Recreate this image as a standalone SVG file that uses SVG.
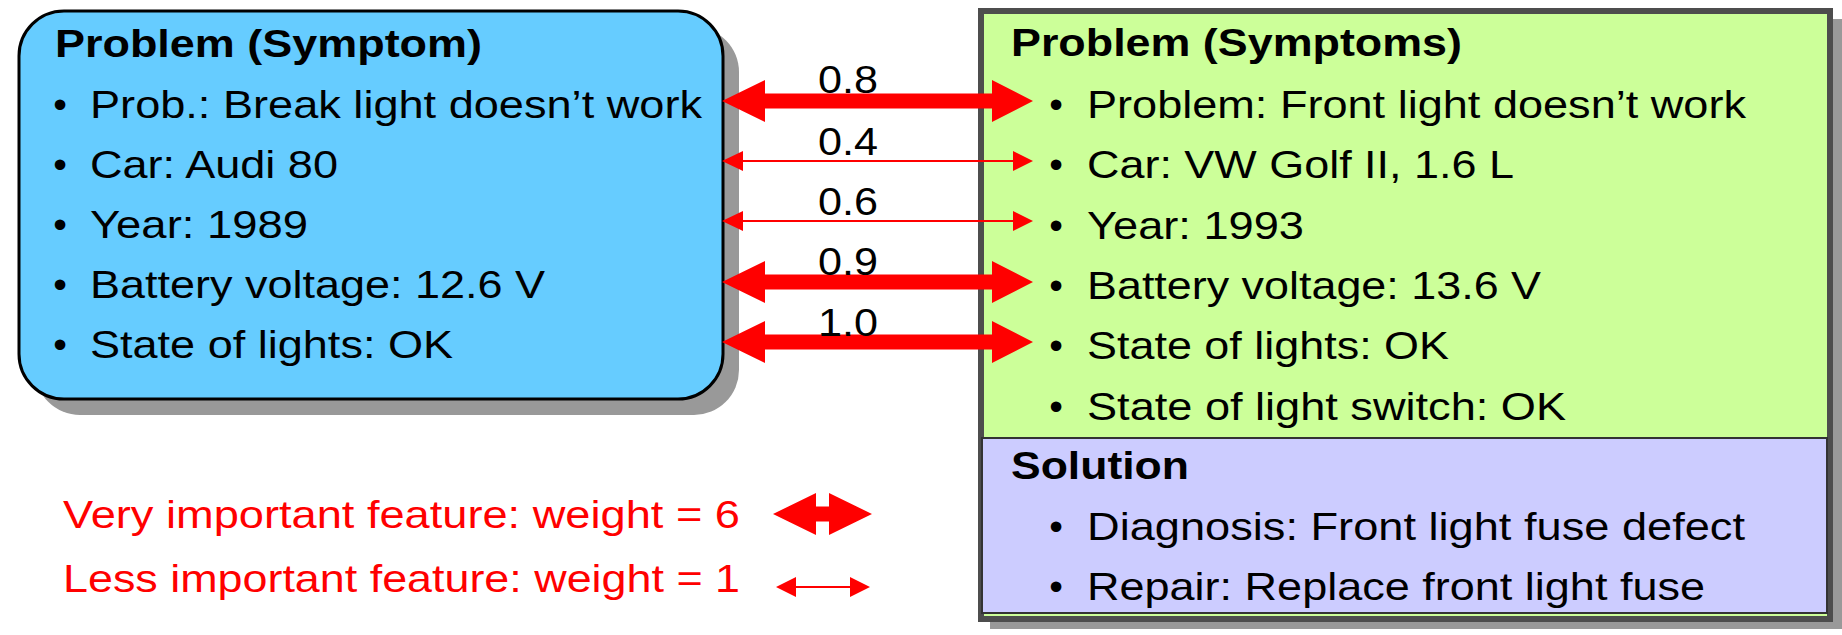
<svg xmlns="http://www.w3.org/2000/svg" xmlns:xlink="http://www.w3.org/1999/xlink" width="1842" height="635" viewBox="0 0 1842 635">
<style>
text { font-family: "Liberation Sans", Arial, sans-serif; font-size: 39px; fill: #000; }
.b { font-weight: bold; }
.bul { text-anchor: middle; }
.lbl { text-anchor: middle; }
.red { fill: #FF0000; }
.arr { fill: #FF0000; }
.thin { stroke: #FF0000; stroke-width: 2; fill: none; }
</style>
<defs>
<path id="thick" d="M722,0 L765,-21 L765,-7.5 L992,-7.5 L992,-21 L1033,0 L992,21 L992,7.5 L765,7.5 L765,21 Z"/>
<g id="thinArrow">
<line x1="740" y1="0" x2="1016" y2="0" class="thin"/>
<path d="M722,0 L743,-10 L743,10 Z M1033,0 L1013,-10 L1013,10 Z" class="arr"/>
</g>
</defs>

<g id="case-left">
<rect x="35" y="27" width="704" height="388" rx="45" ry="45" fill="#999999"/>
<rect x="19" y="11" width="704" height="388" rx="45" ry="45" fill="#66CCFF" stroke="#000" stroke-width="3"/>
<text class="b" x="55" y="57" textLength="427" lengthAdjust="spacingAndGlyphs">Problem (Symptom)</text>
<text class="bul" x="60" y="118">•</text>
<text x="90" y="118" textLength="612" lengthAdjust="spacingAndGlyphs">Prob.: Break light doesn’t work</text>
<text class="bul" x="60" y="178">•</text>
<text x="90" y="178" textLength="248" lengthAdjust="spacingAndGlyphs">Car: Audi 80</text>
<text class="bul" x="60" y="238">•</text>
<text x="90" y="238" textLength="218" lengthAdjust="spacingAndGlyphs">Year: 1989</text>
<text class="bul" x="60" y="298">•</text>
<text x="90" y="298" textLength="455" lengthAdjust="spacingAndGlyphs">Battery voltage: 12.6 V</text>
<text class="bul" x="60" y="358">•</text>
<text x="90" y="358" textLength="363" lengthAdjust="spacingAndGlyphs">State of lights: OK</text>
</g>

<g id="case-right">
<rect x="990" y="19" width="855" height="610" fill="#999999"/>
<rect x="981" y="11" width="849" height="608" fill="#CCFF99" stroke="#4D4D4D" stroke-width="6"/>
<rect x="982" y="438" width="845" height="175" fill="#CCCCFF" stroke="#333333" stroke-width="2"/>
<text class="b" x="1011" y="56" textLength="451" lengthAdjust="spacingAndGlyphs">Problem (Symptoms)</text>
<text class="bul" x="1056" y="118">•</text>
<text x="1087" y="118" textLength="659" lengthAdjust="spacingAndGlyphs">Problem: Front light doesn’t work</text>
<text class="bul" x="1056" y="178">•</text>
<text x="1087" y="178" textLength="427" lengthAdjust="spacingAndGlyphs">Car: VW Golf II, 1.6 L</text>
<text class="bul" x="1056" y="239">•</text>
<text x="1087" y="239" textLength="217" lengthAdjust="spacingAndGlyphs">Year: 1993</text>
<text class="bul" x="1056" y="299">•</text>
<text x="1087" y="299" textLength="454" lengthAdjust="spacingAndGlyphs">Battery voltage: 13.6 V</text>
<text class="bul" x="1056" y="359">•</text>
<text x="1087" y="359" textLength="362" lengthAdjust="spacingAndGlyphs">State of lights: OK</text>
<text class="bul" x="1056" y="420">•</text>
<text x="1087" y="420" textLength="479" lengthAdjust="spacingAndGlyphs">State of light switch: OK</text>
<text class="b" x="1011" y="479" textLength="178" lengthAdjust="spacingAndGlyphs">Solution</text>
<text class="bul" x="1056" y="540">•</text>
<text x="1087" y="540" textLength="658" lengthAdjust="spacingAndGlyphs">Diagnosis: Front light fuse defect</text>
<text class="bul" x="1056" y="600">•</text>
<text x="1087" y="600" textLength="618" lengthAdjust="spacingAndGlyphs">Repair: Replace front light fuse</text>
</g>

<g id="connectors">
<use xlink:href="#thick" href="#thick" class="arr" y="101"/>
<use xlink:href="#thinArrow" href="#thinArrow" y="161"/>
<use xlink:href="#thinArrow" href="#thinArrow" y="221"/>
<use xlink:href="#thick" href="#thick" class="arr" y="282"/>
<use xlink:href="#thick" href="#thick" class="arr" y="342"/>
<text class="lbl" x="848" y="93" textLength="60" lengthAdjust="spacingAndGlyphs">0.8</text>
<text class="lbl" x="848" y="155" textLength="60" lengthAdjust="spacingAndGlyphs">0.4</text>
<text class="lbl" x="848" y="215" textLength="60" lengthAdjust="spacingAndGlyphs">0.6</text>
<text class="lbl" x="848" y="275" textLength="60" lengthAdjust="spacingAndGlyphs">0.9</text>
<text class="lbl" x="848" y="336" textLength="60" lengthAdjust="spacingAndGlyphs">1.0</text>
</g>

<g id="legend">
<text class="red" x="63" y="528" textLength="677" lengthAdjust="spacingAndGlyphs">Very important feature: weight = 6</text>
<path class="arr" d="M773,514 L816,493 L816,506.5 L829,506.5 L829,493 L872,514 L829,535 L829,521.5 L816,521.5 L816,535 Z"/>
<text class="red" x="63" y="592" textLength="677" lengthAdjust="spacingAndGlyphs">Less important feature: weight = 1</text>
<line class="thin" x1="792" y1="587" x2="855" y2="587"/>
<path class="arr" d="M776,587 L796,577 L796,597 Z M870,587 L850,577 L850,597 Z"/>
</g>
</svg>
